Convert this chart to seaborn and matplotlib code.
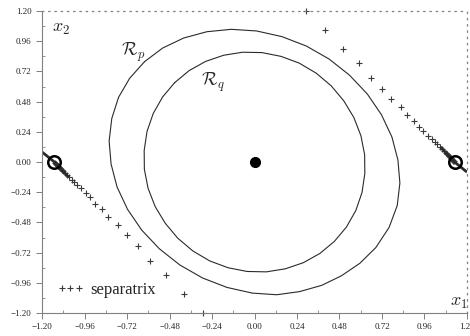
import matplotlib.pyplot as plt
import seaborn as sns
from matplotlib.ticker import MultipleLocator, FuncFormatter
from matplotlib.lines import Line2D

sns.set_style("ticks")
plt.rcParams["font.family"] = ["Liberation Serif", "DejaVu Serif"]
plt.rcParams["mathtext.fontset"] = "cm"

# outer level curve R_p (counter-clockwise)
outer_x = [-0.621, -0.519, -0.400, -0.269, -0.131, 0.012, 0.155, 0.293, 0.421, 0.537,
           0.637, 0.717, 0.776, 0.810, 0.821, 0.806, 0.760, 0.685, 0.595, 0.490,
           0.380, 0.255, 0.125, -0.012, -0.155, -0.293, -0.421, -0.537, -0.637, -0.717,
           -0.776, -0.810, -0.821, -0.806, -0.768, -0.705]
outer_y = [0.798, 0.906, 0.986, 1.036, 1.055, 1.042, 0.997, 0.922, 0.819, 0.690,
           0.541, 0.376, 0.199, 0.016, -0.167, -0.346, -0.520, -0.680, -0.805, -0.905,
           -0.980, -1.030, -1.055, -1.042, -0.997, -0.922, -0.819, -0.690, -0.541, -0.376,
           -0.199, -0.016, 0.167, 0.346, 0.514, 0.666]

# inner level curve R_q
inner_x = [-0.451, -0.369, -0.276, -0.174, -0.067, 0.042, 0.150, 0.253, 0.348, 0.433,
           0.504, 0.561, 0.601, 0.622, 0.623, 0.607, 0.572, 0.519, 0.451, 0.369,
           0.276, 0.174, 0.067, -0.042, -0.150, -0.253, -0.348, -0.433, -0.504, -0.561,
           -0.601, -0.622, -0.623, -0.607, -0.572, -0.519]
inner_y = [0.631, 0.727, 0.800, 0.849, 0.873, 0.870, 0.840, 0.786, 0.707, 0.606,
           0.487, 0.354, 0.209, 0.058, -0.093, -0.243, -0.386, -0.517, -0.631, -0.727,
           -0.800, -0.849, -0.873, -0.870, -0.840, -0.786, -0.707, -0.606, -0.487, -0.354,
           -0.209, -0.058, 0.093, 0.243, 0.386, 0.517]

# separatrix points, right branch (left branch is the mirror through the origin)
sep_x = [0.29, 0.40, 0.50, 0.59, 0.66, 0.72, 0.77, 0.83, 0.86, 0.90, 0.93, 0.95, 0.98,
         1.00, 1.02, 1.03, 1.05, 1.06, 1.07, 1.08, 1.085, 1.09, 1.096, 1.102, 1.107,
         1.11, 1.113, 1.116, 1.119, 1.122, 1.124]
sep_y = [1.20, 1.05, 0.90, 0.79, 0.67, 0.58, 0.50, 0.44, 0.37, 0.33, 0.28, 0.25, 0.21,
         0.18, 0.16, 0.14, 0.12, 0.10, 0.09, 0.075, 0.063, 0.055, 0.048, 0.04, 0.032,
         0.028, 0.024, 0.02, 0.016, 0.012, 0.008]
sep_line_x = [1.05, 1.13, 1.20]
sep_line_y = [0.12, 0.0, -0.08]

saddle_x = [-1.13, 1.13]
saddle_y = [0.0, 0.0]
origin_x = [0.0]
origin_y = [0.0]

ink = "#2b2b2b"
grey = "#808080"

fig, ax = plt.subplots(figsize=(4.7, 3.36), dpi=100)
fig.subplots_adjust(left=0.0894, right=0.9936, bottom=0.0685, top=0.967)

# level curves
sns.lineplot(x=outer_x + outer_x[:1], y=outer_y + outer_y[:1], sort=False,
             estimator=None, color=ink, lw=0.8, ax=ax)
sns.lineplot(x=inner_x + inner_x[:1], y=inner_y + inner_y[:1], sort=False,
             estimator=None, color=ink, lw=0.8, ax=ax)

# separatrix
for s in [1, -1]:
    ax.plot([s * v for v in sep_line_x], [s * v for v in sep_line_y],
            color=ink, lw=2, solid_capstyle="butt")
    sns.scatterplot(x=[s * v for v in sep_x], y=[s * v for v in sep_y], marker="+",
                    s=22, color="#3a3a3a", linewidth=0.8, ax=ax, clip_on=False)

# equilibria
ax.plot(saddle_x, saddle_y, "o", mfc="none", mec="black", ms=9, mew=1.8)
ax.plot(origin_x, origin_y, "o", color="black", ms=7)

ax.set_xlim(-1.2, 1.2)
ax.set_ylim(-1.2, 1.2)

# axes look
for side in ["top", "right"]:
    ax.spines[side].set_linestyle((0, (1, 4)))
    ax.spines[side].set_color(grey)
    ax.spines[side].set_linewidth(0.9)
for side in ["left", "bottom"]:
    ax.spines[side].set_color(grey)
    ax.spines[side].set_linewidth(0.8)

fmt = FuncFormatter(lambda v, p: f"{v:.2f}".replace("-0.00", "0.00").replace("-", "\u2212"))
for axis in [ax.xaxis, ax.yaxis]:
    axis.set_major_locator(MultipleLocator(0.24))
    axis.set_minor_locator(MultipleLocator(0.12))
    axis.set_major_formatter(fmt)
ax.tick_params(which="major", direction="out", length=4, width=0.7, color=grey,
               labelsize=6.5, pad=3.5)
ax.tick_params(which="minor", direction="in", length=2, width=0.6, color=grey)

# labels
ax.text(-0.686, 0.875, r"$\mathcal{R}_p$", fontsize=13, ha="center", va="center")
ax.text(-0.234, 0.636, r"$\mathcal{R}_q$", fontsize=13, ha="center", va="center")
ax.text(-1.093, 1.065, r"$x_2$", fontsize=13, ha="center", va="center")
ax.text(1.156, -1.117, r"$x_1$", fontsize=13, ha="center", va="center")

handle = Line2D([], [], marker="+", ls="none", color="#3a3a3a", ms=5, mew=0.8)
ax.legend([handle], ["separatrix"], numpoints=3, loc="lower left",
          bbox_to_anchor=(0.0, 0.0), frameon=False, fontsize=12,
          handlelength=1.6, handletextpad=0.4)

fig.savefig("out.png", dpi=100)
